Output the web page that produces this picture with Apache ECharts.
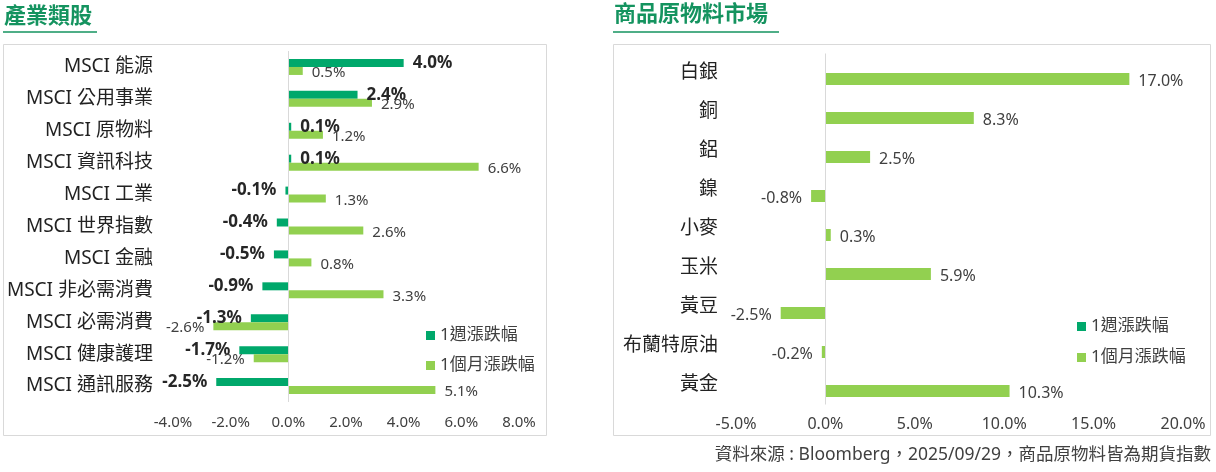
<!DOCTYPE html>
<html>
<head>
<meta charset="utf-8">
<script src="https://cdn.jsdelivr.net/npm/echarts@6/dist/echarts.min.js"></script>
<style>
html, body { margin: 0; padding: 0; background: #fff; }
#main { width: 1216px; height: 472px; }
</style>
</head>
<body>
<div id="main"></div>
<script>
// 產業類股
var sectors = ['MSCI 能源', 'MSCI 公用事業', 'MSCI 原物料', 'MSCI 資訊科技', 'MSCI 工業', 'MSCI 世界指數',
	'MSCI 金融', 'MSCI 非必需消費', 'MSCI 必需消費', 'MSCI 健康護理', 'MSCI 通訊服務'];
var sectorWeek = [4.0, 2.4, 0.1, 0.1, -0.1, -0.4, -0.5, -0.9, -1.3, -1.7, -2.5];
var sectorMonth = [0.5, 2.9, 1.2, 6.6, 1.3, 2.6, 0.8, 3.3, -2.6, -1.2, 5.1];
var sectorTicks = { min: -4, max: 8, interval: 2 };

// 商品原物料市場
var commodities = ['白銀', '銅', '鋁', '鎳', '小麥', '玉米', '黃豆', '布蘭特原油', '黃金'];
var commodityWeek = [null, null, null, null, null, null, null, null, null];
var commodityMonth = [17.0, 8.3, 2.5, -0.8, 0.3, 5.9, -2.5, -0.2, 10.3];
var commodityTicks = { min: -5, max: 20, interval: 5 };

var seriesNames = ['1週漲跌幅', '1個月漲跌幅'];
var source = '資料來源 : Bloomberg，2025/09/29，商品原物料皆為期貨指數';

var weekColor = '#00A86B';
var monthColor = '#92D050';
var titleColor = '#14935F';
var font = '"Noto Sans", "Noto Sans CJK TC", sans-serif';

function pct(p) {
	if (p.value == null) return '';
	return p.value.toFixed(1) + '%';
}
function withSide(arr) {
	return arr.map(function (v) {
		if (v == null) return { value: null, label: { show: false } };
		return { value: v, label: { position: v < 0 ? 'left' : 'right' } };
	});
}

var zeroLine = {
	silent: true,
	symbol: 'none',
	label: { show: false },
	lineStyle: { color: '#d9d9d9', type: 'solid', width: 1 },
	data: [{ xAxis: 0 }]
};

var myChart = echarts.init(document.getElementById('main'));
var option = {
	backgroundColor: '#fff',
	animation: false,
	textStyle: { fontFamily: font },
	title: [{
		text: '產業類股', left: 4, top: 6, padding: 0,
		textStyle: { fontSize: 22, fontWeight: 'bold', color: titleColor, fontFamily: font }
	}, {
		text: '商品原物料市場', left: 614, top: 4, padding: 0,
		textStyle: { fontSize: 22, fontWeight: 'bold', color: titleColor, fontFamily: font }
	}, {
		text: source, right: 5, top: 446, padding: 0,
		textStyle: { fontSize: 17.5, fontWeight: 'normal', color: '#404040', fontFamily: font }
	}],
	graphic: [
		{ type: 'rect', shape: { x: 3.5, y: 44.5, width: 543, height: 391 }, style: { fill: 'none', stroke: '#d9d9d9', lineWidth: 1 }, silent: true, z: -1 },
		{ type: 'rect', shape: { x: 613.5, y: 44.5, width: 597, height: 391 }, style: { fill: 'none', stroke: '#d9d9d9', lineWidth: 1 }, silent: true, z: -1 },
		{ type: 'line', shape: { x1: 3, y1: 32, x2: 97, y2: 32 }, style: { stroke: titleColor, lineWidth: 1.5 }, silent: true },
		{ type: 'line', shape: { x1: 613, y1: 32, x2: 779, y2: 32 }, style: { stroke: titleColor, lineWidth: 1.5 }, silent: true }
	],
	legend: [{
		orient: 'vertical', left: 421, top: 322, itemGap: 13,
		itemWidth: 9, itemHeight: 9, icon: 'rect',
		textStyle: { fontSize: 17, color: '#404040', fontFamily: font },
		data: seriesNames
	}, {
		orient: 'vertical', left: 1072, top: 313, itemGap: 14,
		itemWidth: 9, itemHeight: 9, icon: 'rect',
		textStyle: { fontSize: 17, color: '#404040', fontFamily: font },
		data: seriesNames
	}],
	grid: [
		{ left: 173, top: 51, width: 346, height: 351 },
		{ left: 736, top: 53.5, width: 447, height: 351 }
	],
	xAxis: [{
		gridIndex: 0, type: 'value',
		min: sectorTicks.min, max: sectorTicks.max, interval: sectorTicks.interval,
		axisLine: { show: false }, axisTick: { show: false }, splitLine: { show: false },
		axisLabel: { margin: 13, fontSize: 15, color: '#404040', formatter: function (v) { return v.toFixed(1) + '%'; } }
	}, {
		gridIndex: 1, type: 'value',
		min: commodityTicks.min, max: commodityTicks.max, interval: commodityTicks.interval,
		axisLine: { show: false }, axisTick: { show: false }, splitLine: { show: false },
		axisLabel: { margin: 12, fontSize: 16, color: '#404040', formatter: function (v) { return v.toFixed(1) + '%'; } }
	}],
	yAxis: [{
		gridIndex: 0, type: 'category', inverse: true, data: sectors,
		axisLine: { show: false }, axisTick: { show: false },
		axisLabel: { margin: 20, fontSize: 19, color: '#222' }
	}, {
		gridIndex: 1, type: 'category', inverse: true, data: commodities,
		axisLine: { show: false }, axisTick: { show: false },
		axisLabel: { margin: 18, fontSize: 19, color: '#222' }
	}],
	series: [{
		name: seriesNames[0], type: 'bar', xAxisIndex: 0, yAxisIndex: 0,
		data: withSide(sectorWeek),
		itemStyle: { color: weekColor },
		barWidth: 8, barGap: '0%',
		label: { show: true, distance: 9, fontSize: 17, fontWeight: 'bold', color: '#262626', formatter: pct }
	}, {
		name: seriesNames[1], type: 'bar', xAxisIndex: 0, yAxisIndex: 0,
		data: withSide(sectorMonth),
		itemStyle: { color: monthColor },
		barWidth: 8, barGap: '0%',
		label: { show: true, distance: 9, offset: [0, 2], fontSize: 15, color: '#404040', formatter: pct },
		markLine: zeroLine
	}, {
		name: seriesNames[0], type: 'bar', xAxisIndex: 1, yAxisIndex: 1,
		data: withSide(commodityWeek),
		itemStyle: { color: weekColor },
		barWidth: 12, barGap: '0%',
		label: { show: true, distance: 9, fontSize: 17, fontWeight: 'bold', color: '#262626', formatter: pct }
	}, {
		name: seriesNames[1], type: 'bar', xAxisIndex: 1, yAxisIndex: 1,
		data: withSide(commodityMonth),
		itemStyle: { color: monthColor },
		barWidth: 12, barGap: '0%',
		label: { show: true, distance: 9, offset: [0, 2], fontSize: 16, color: '#404040', formatter: pct },
		markLine: zeroLine
	}]
};
myChart.setOption(option);
</script>
</body>
</html>
